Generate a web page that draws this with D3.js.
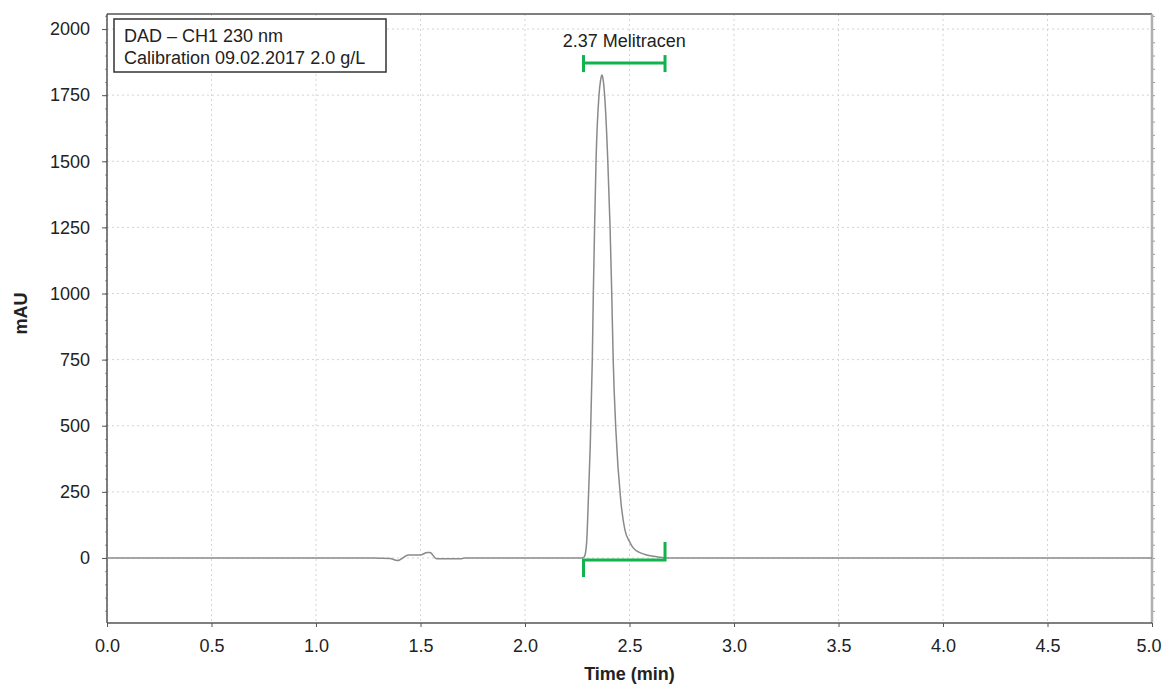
<!DOCTYPE html>
<html>
<head>
<meta charset="utf-8">
<script src="https://cdn.jsdelivr.net/npm/d3@7"></script>
<style>
  body { margin: 0; background: #fff; }
  svg { font-family: Arial, "Liberation Sans", sans-serif; }
</style>
</head>
<body>
<svg width="1163" height="684"></svg>
<script>
// chromatogram trace
var timeMin = [0, 1.25, 1.30, 1.354, 1.389, 1.442, 1.498, 1.533, 1.545, 1.577, 1.697, 1.71,
  2.27, 2.28, 2.285, 2.295, 2.303, 2.312, 2.322, 2.327, 2.333, 2.340, 2.354, 2.362, 2.368,
  2.374, 2.381, 2.396, 2.407, 2.415, 2.422, 2.435, 2.458, 2.478, 2.50, 2.518, 2.55, 2.582,
  2.636, 2.68, 5.0];
var signalMAU = [0, 0, -1, -2, -10, 11, 11, 21, 21, -3, -3, 0,
  0, 2, 6, 60, 219, 420, 749, 1002, 1251, 1505, 1750, 1808, 1826,
  1808, 1750, 1505, 1251, 1002, 749, 480, 219, 106, 62, 38, 20, 11,
  4, 0, 0];

var xTicks = [0, 0.5, 1, 1.5, 2, 2.5, 3, 3.5, 4, 4.5, 5];
var yTicks = [0, 250, 500, 750, 1000, 1250, 1500, 1750, 2000];
var yMinorStep = 50;

var legendLines = ["DAD \u2013 CH1 230 nm", "Calibration 09.02.2017 2.0 g/L"];

var peakNames = ["Melitracen"];
var peakRT = [2.37];
var peakStart = [2.28];
var peakEnd = [2.67];
var peakHeight = [1826];

var margin = { top: 14, right: 11, bottom: 61, left: 107 };
var width = 1163 - margin.left - margin.right;
var height = 684 - margin.top - margin.bottom;
var fontSize = "18px";

var svg = d3.select("svg");
var g = svg.append("g").attr("transform", "translate(" + margin.left + "," + margin.top + ")");

var xScale = d3.scaleLinear().domain([0, 5]).range([0, width]);
var yScale = d3.scaleLinear().domain([-246, 2057]).range([height, 0]);

// dotted grid
g.append("g").selectAll("line.gx")
  .data(xTicks).enter().append("line")
  .attr("x1", function (d) { return xScale(d); })
  .attr("x2", function (d) { return xScale(d); })
  .attr("y1", 0).attr("y2", height)
  .style("stroke", "#d4d4d4").style("stroke-dasharray", "2,3");
g.append("g").selectAll("line.gy")
  .data(yTicks).enter().append("line")
  .attr("x1", 0).attr("x2", width)
  .attr("y1", function (d) { return yScale(d); })
  .attr("y2", function (d) { return yScale(d); })
  .style("stroke", "#d4d4d4").style("stroke-dasharray", "2,3");

// minor ticks every 50 on both sides
var minorVals = d3.range(-200, 2051, yMinorStep);
var yMinorLeft = d3.axisLeft(yScale).tickValues(minorVals).tickSize(2).tickFormat("");
var yMinorRight = d3.axisRight(yScale).tickValues(minorVals).tickSize(3).tickFormat("");
g.append("g").attr("class", "minor").call(yMinorLeft);
g.append("g").attr("class", "minor").attr("transform", "translate(" + width + ",0)").call(yMinorRight);
g.selectAll("g.minor path.domain").remove();
g.selectAll("g.minor line").style("stroke", "#999");

// frame
g.append("line").attr("x1", 0).attr("x2", width).attr("y1", 0).attr("y2", 0)
  .style("stroke", "#555").style("stroke-width", "1.5px");
g.append("line").attr("x1", width).attr("x2", width).attr("y1", 0).attr("y2", height)
  .style("stroke", "#b0b0b0").style("stroke-width", "2.5px");

var yAxis = d3.axisLeft(yScale).tickValues(yTicks).tickSize(5).tickPadding(12)
  .tickFormat(d3.format("d"));
var yAxisG = g.append("g").attr("id", "yAxisG").call(yAxis);

var xAxis = d3.axisBottom(xScale).tickValues(xTicks).tickSize(4).tickPadding(12)
  .tickFormat(d3.format(".1f"));
var xAxisG = g.append("g").attr("id", "xAxisG")
  .attr("transform", "translate(0," + height + ")").call(xAxis);

// last x label sits against the right edge
xAxisG.selectAll(".tick text")
  .filter(function (d) { return d === 5; })
  .attr("text-anchor", "end").attr("x", 9);

svg.selectAll("#yAxisG path.domain, #xAxisG path.domain")
  .attr("d", function () {
    return this.parentNode.id === "yAxisG" ? "M0,0V" + height : "M0,0H" + width;
  })
  .style("stroke", "#555").style("stroke-width", "1.5px");
svg.selectAll("#yAxisG .tick line, #xAxisG .tick line").style("stroke", "#555");
svg.selectAll("#yAxisG text, #xAxisG text")
  .style("font-size", fontSize).style("fill", "#222")
  .style("font-family", "Arial, 'Liberation Sans', sans-serif");

// axis titles
svg.append("text")
  .attr("transform", "translate(27," + (margin.top + yScale(1000) + 20) + ") rotate(-90)")
  .attr("text-anchor", "middle")
  .style("font-size", fontSize).style("font-weight", "bold").style("fill", "#222")
  .text("mAU");
svg.append("text")
  .attr("x", margin.left + xScale(2.5)).attr("y", 680)
  .attr("text-anchor", "middle")
  .style("font-size", fontSize).style("font-weight", "bold").style("fill", "#222")
  .text("Time (min)");

// trace
var line = d3.line()
  .x(function (d, i) { return xScale(timeMin[i]); })
  .y(function (d) { return yScale(d); })
  .curve(d3.curveMonotoneX);
g.append("path")
  .datum(signalMAU)
  .attr("d", line)
  .style("fill", "none")
  .style("stroke", "#8a8a8a")
  .style("stroke-width", "1.5px");

// peak integration marks
var green = "#12b24e";
peakNames.forEach(function (name, i) {
  var x1 = xScale(peakStart[i]);
  var x2 = xScale(peakEnd[i]);
  var yTop = yScale(peakHeight[i]) - 12;
  var yBase = yScale(0) + 2;
  var pk = g.append("g").style("stroke", green).style("stroke-width", "3px").style("fill", "none");
  pk.append("line").attr("x1", x1).attr("x2", x2).attr("y1", yTop).attr("y2", yTop);
  pk.append("line").attr("x1", x1).attr("x2", x1).attr("y1", yTop - 8).attr("y2", yTop + 9);
  pk.append("line").attr("x1", x2).attr("x2", x2).attr("y1", yTop - 8).attr("y2", yTop + 9);
  pk.append("path").attr("d", "M" + x1 + "," + (yBase + 17) + "V" + yBase + "H" + x2 + "V" + (yBase - 18));
  g.append("text")
    .attr("x", (x1 + x2) / 2).attr("y", yTop - 16)
    .attr("text-anchor", "middle")
    .style("font-size", fontSize).style("fill", "#222")
    .text(peakRT[i].toFixed(2) + " " + name);
});

// legend box
var leg = g.append("g").attr("transform", "translate(7,5)");
leg.append("rect").attr("width", 272).attr("height", 53)
  .style("fill", "#fff").style("stroke", "#333").style("stroke-width", "1.5px");
leg.selectAll("text").data(legendLines).enter().append("text")
  .attr("x", 10).attr("y", function (d, i) { return 23 + i * 22; })
  .style("font-size", fontSize).style("fill", "#222")
  .text(function (d) { return d; });
</script>
</body>
</html>
